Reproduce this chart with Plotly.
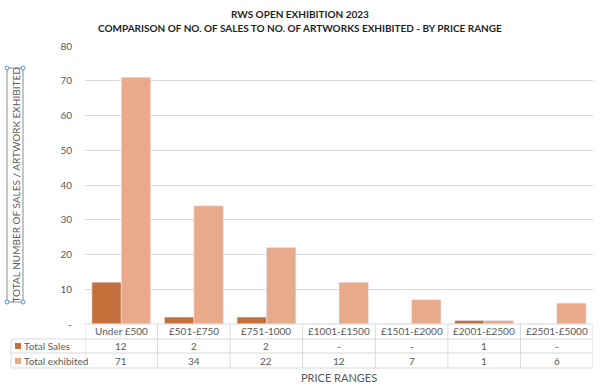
import plotly.graph_objects as go

categories = ["Under £500", "£501-£750", "£751-1000", "£1001-£1500", "£1501-£2000", "£2001-£2500", "£2501-£5000"]
total_sales = [12, 2, 2, 0, 0, 1, 0]
total_exhibited = [71, 34, 22, 12, 7, 1, 6]
y_ticks = [0, 10, 20, 30, 40, 50, 60, 70, 80]

C_SALES = "#C5703B"
C_EXH = "#E9A98B"
GRID = "#D9D9D9"
TXT = "#595959"
FONT = "Lato"

W, H = 600, 391
L, R, T, B = 85, 7, 46, 67
PW = W - L - R
PH = H - T - B

def px(xpix):
    return (xpix - L) / PW

def py(ypix):
    return (H - B - ypix) / PH

fig = go.Figure()
fig.add_trace(go.Bar(x=categories, y=total_sales, name="Total Sales", marker_color=C_SALES))
fig.add_trace(go.Bar(x=categories, y=total_exhibited, name="Total exhibited", marker_color=C_EXH))

shapes = []
annotations = []

def ann(x, y, text, xref="paper", size=10, color=TXT, xanchor="center", angle=0):
    annotations.append(dict(x=x, xref=xref, y=y, yref="paper", text=text, showarrow=False,
                            xanchor=xanchor, yanchor="middle", textangle=angle,
                            font=dict(size=size, color=color, family=FONT)))

row_tops = [324, 339, 353, 368]
left_edge = 11
line = dict(color=GRID, width=1)
shapes.append(dict(type="line", xref="paper", yref="paper", x0=0, x1=1, y0=py(324), y1=py(324), line=line))
for yp in row_tops[1:]:
    shapes.append(dict(type="line", xref="paper", yref="paper", x0=px(left_edge), x1=1, y0=py(yp), y1=py(yp), line=line))
n = len(categories)
for i in range(n + 1):
    shapes.append(dict(type="line", xref="x", yref="paper", x0=i - 0.5, x1=i - 0.5, y0=py(324), y1=py(368), line=line))
shapes.append(dict(type="line", xref="paper", yref="paper", x0=px(left_edge), x1=px(left_edge), y0=py(339), y1=py(368), line=line))

def fmt(v):
    return "-" if v == 0 else str(v)

for i, c in enumerate(categories):
    ann(c, py(331), c, xref="x")
    ann(c, py(346), fmt(total_sales[i]), xref="x")
    ann(c, py(361), fmt(total_exhibited[i]), xref="x")

for name, col, yc in [("Total Sales", C_SALES, 346), ("Total exhibited", C_EXH, 361)]:
    shapes.append(dict(type="rect", xref="paper", yref="paper", x0=px(15), x1=px(21), y0=py(yc + 3), y1=py(yc - 3),
                       fillcolor=col, line=dict(width=0)))
    ann(px(22), py(yc), name, xanchor="left")

ann(0.5, py(377.5), "PRICE RANGES", size=11)

ann(px(15), py(184.5), "TOTAL NUMBER OF SALES / ARTWORK EXHIBITED", size=10, angle=-90)
shapes.append(dict(type="rect", xref="paper", yref="paper", x0=px(7), x1=px(23), y0=py(302), y1=py(68),
                   line=dict(color="#8C8C8C", width=1)))
for xx in (7, 23):
    for yy in (68, 302):
        shapes.append(dict(type="circle", xref="paper", yref="paper", x0=px(xx - 2), x1=px(xx + 2),
                           y0=py(yy + 2), y1=py(yy - 2), line=dict(color="#5B8BD0", width=1), fillcolor="white"))

ann(px(300), py(13.5), "<b>RWS OPEN EXHIBITION 2023</b>", size=10, color="#1F1F1F")
ann(px(300), py(28.5), "<b>COMPARISON OF NO. OF SALES TO NO. OF ARTWORKS EXHIBITED - BY PRICE RANGE</b>", size=10, color="#1F1F1F")

fig.update_layout(
    width=W, height=H,
    margin=dict(l=L, r=R, t=T, b=B, autoexpand=False),
    paper_bgcolor="white", plot_bgcolor="white",
    barmode="group", bargap=0.19, bargroupgap=0,
    showlegend=False,
    shapes=shapes, annotations=annotations,
    font=dict(family=FONT, color=TXT, size=10),
)
fig.update_xaxes(range=[-0.5, n - 0.5], showticklabels=False, ticks="", showgrid=False, zeroline=False,
                 showline=False, fixedrange=True, automargin=False)
fig.update_yaxes(range=[0, 80], tickvals=y_ticks, ticktext=["-" if v == 0 else str(v) for v in y_ticks],
                 showgrid=True, gridcolor=GRID, gridwidth=1, zeroline=False, showline=False, automargin=False,
                 ticks="", ticklabelstandoff=12, tickfont=dict(size=10, color=TXT, family=FONT))

fig.write_html("out.html", config={"displayModeBar": False},
               post_script="document.body.style.margin='0';document.body.style.overflow='hidden';")
